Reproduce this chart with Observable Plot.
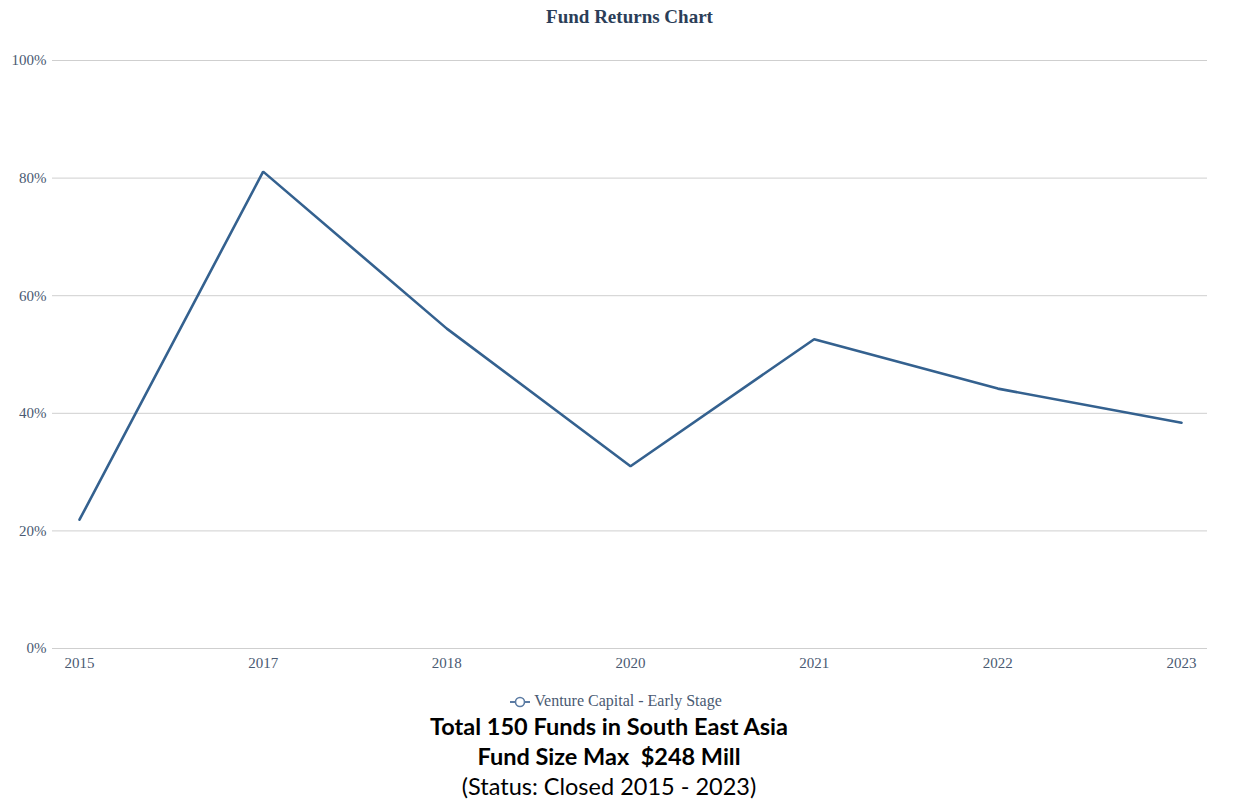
<!DOCTYPE html>
<html>
<head>
<meta charset="utf-8">
<script src="https://cdn.jsdelivr.net/npm/d3@7"></script>
<script src="https://cdn.jsdelivr.net/npm/@observablehq/plot@0.6"></script>
<style>
  body { margin: 0; background: #fff; }
  #wrap { width: 1237px; }
  #title { height: 40px; box-sizing: border-box; padding-left: 22px; padding-top: 6px; text-align: center;
    font-family: "Liberation Serif", serif; font-weight: bold; font-size: 19px; color: #2b3e58; }
  #legend { height: 31px; box-sizing: border-box; padding-right: 5px; padding-top: 12px; text-align: center;
    font-family: "Liberation Serif", serif; font-size: 16px; line-height: 18px; color: #4a5a72; }
  #legend svg { vertical-align: -2px; margin-right: 4px; }
  .cap { text-align: center; padding-right: 19px; font-family: Lato, "Open Sans", sans-serif; font-size: 23.5px; color: #000; line-height: 30px; }
  .b { font-weight: bold; }
</style>
</head>
<body>
<div id="wrap">
  <div id="title">Fund Returns Chart</div>
  <div id="chart"></div>
  <div id="legend"><svg width="20" height="12"><line x1="0" y1="6" x2="20" y2="6" stroke="#5b7ba3" stroke-width="2"/><circle cx="10" cy="6" r="4.5" fill="#fff" stroke="#5b7ba3" stroke-width="1.6"/></svg>Venture Capital - Early Stage</div>
  <div class="cap b">Total 150 Funds in South East Asia</div>
  <div class="cap b">Fund Size Max&nbsp; $248 Mill</div>
  <div class="cap">(Status: Closed 2015 - 2023)</div>
</div>
<script>
const years = ["2015", "2017", "2018", "2020", "2021", "2022", "2023"];
const returns = [21.9, 81.1, 54.4, 31.0, 52.6, 44.2, 38.4];
const yTicks = [0, 20, 40, 60, 80, 100];
const seriesName = "Venture Capital - Early Stage";

const data = years.map((y, i) => ({year: y, value: returns[i], series: seriesName}));

const chart = Plot.plot({
  width: 1237,
  height: 640,
  marginLeft: 52,
  marginRight: 30,
  marginTop: 20,
  marginBottom: 32,
  style: {fontFamily: "Liberation Serif, serif", fontSize: "15px", color: "#4a5a72", background: "#fff"},
  x: {type: "point", domain: years, range: [79, 1181], padding: 0, round: false, label: null},
  y: {domain: [0, 100], label: null},
  marks: [
    Plot.ruleY(yTicks, {stroke: "#cfcfcf", strokeWidth: 1}),
    Plot.axisY({ticks: yTicks, tickSize: 0, tickPadding: 6, tickFormat: d => d + "%", label: null}),
    Plot.axisX({tickSize: 0, tickPadding: 9, label: null}),
    Plot.line(data, {x: "year", y: "value", stroke: "#34618f", strokeWidth: 2.6, strokeLinejoin: "miter"})
  ]
});
document.getElementById("chart").appendChild(chart);
</script>
</body>
</html>
